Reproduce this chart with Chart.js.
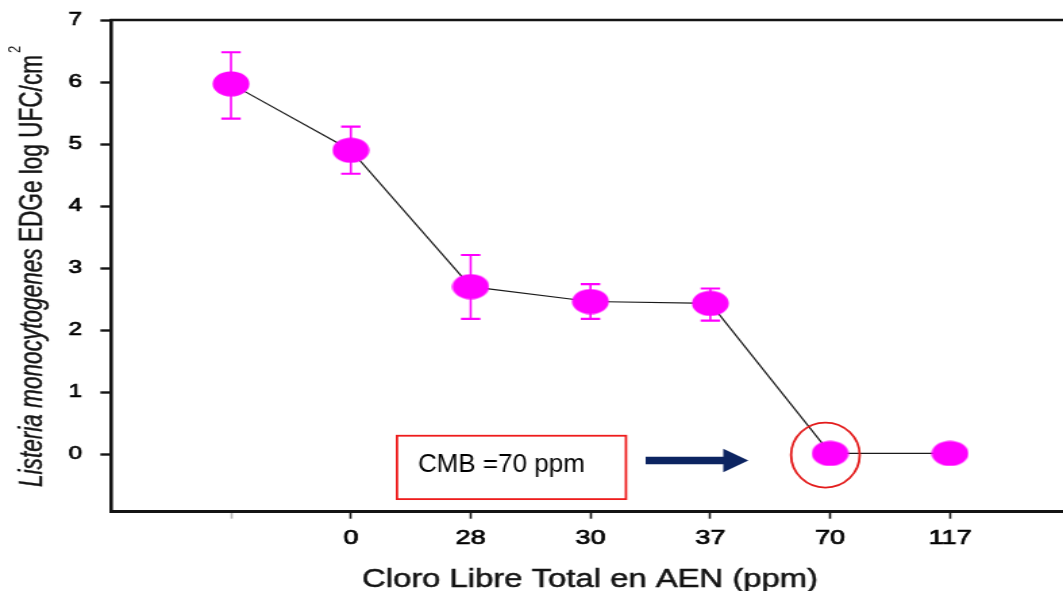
<!DOCTYPE html>
<html><head><meta charset="utf-8">
<script src="https://cdn.jsdelivr.net/npm/chart.js@4.4.1/dist/chart.umd.min.js"></script>
<style>html,body{margin:0;padding:0;background:#fff;overflow:hidden}</style>
</head><body>
<canvas id="c" width="787" height="591" style="display:block;width:1063px;height:591px"></canvas>
<script>
// ---- data ----
const categories = ['', '0', '28', '30', '37', '70', '117'];
const means   = [5.97, 4.90, 2.70, 2.46, 2.43, 0.01, 0.01];
const errHigh = [6.48, 5.28, 3.21, 2.74, 2.67, 0.01, 0.01];
const errLow  = [5.41, 4.52, 2.18, 2.18, 2.15, 0.01, 0.01];
const yTicks = [0, 1, 2, 3, 4, 5, 6, 7];
const xTitle = 'Cloro Libre Total en AEN (ppm)';
const yTitleItalic = 'Listeria monocytogenes';
const yTitleRest = ' EDGe log UFC/cm';
const yTitleSup = '2';
const noteText = 'CMB =70 ppm';

const SX = 1063 / 787;
const FONT = '"Liberation Sans", Arial, sans-serif';
const INK = '#141414';

// marker image (slightly wide oval)
const mk = document.createElement('canvas');
mk.width = 28; mk.height = 26;
{
  const g = mk.getContext('2d');
  g.fillStyle = '#ff00ff';
  g.beginPath();
  g.ellipse(14, 13, 13.6, 12.6, 0, 0, Math.PI * 2);
  g.fill();
}

function boldText(ctx, txt, x, y, sw) {
  ctx.fillText(txt, x, y);
  ctx.lineWidth = sw;
  ctx.strokeText(txt, x, y);
}

const errorBars = {
  id: 'errorBars',
  beforeDatasetsDraw(chart) {
    const xs = chart.scales.x, ys = chart.scales.y, ctx = chart.ctx;
    ctx.save();
    ctx.strokeStyle = '#ff00ff';
    means.forEach((m, i) => {
      if (errHigh[i] - errLow[i] < 0.05) return;
      const x = xs.getPixelForValue(i);
      const yh = ys.getPixelForValue(errHigh[i]);
      const yl = ys.getPixelForValue(errLow[i]);
      ctx.lineWidth = 1.6;
      ctx.beginPath(); ctx.moveTo(x, yh); ctx.lineTo(x, yl); ctx.stroke();
      ctx.lineWidth = 2.2;
      ctx.beginPath();
      ctx.moveTo(x - 7.2, yh); ctx.lineTo(x + 7.2, yh);
      ctx.moveTo(x - 7.2, yl); ctx.lineTo(x + 7.2, yl);
      ctx.stroke();
    });
    ctx.restore();
  }
};

const extras = {
  id: 'extras',
  afterDraw(chart) {
    const xs = chart.scales.x, ys = chart.scales.y, ctx = chart.ctx;
    const a = chart.chartArea;
    ctx.save();
    // top frame line
    ctx.strokeStyle = INK; ctx.lineWidth = 2.5;
    ctx.beginPath(); ctx.moveTo(a.left - 1, a.top); ctx.lineTo(chart.width, a.top); ctx.stroke();

    // x title
    ctx.fillStyle = INK; ctx.strokeStyle = INK;
    ctx.font = '25px ' + FONT;
    let w = ctx.measureText(xTitle).width;
    ctx.save();
    ctx.translate(436.8, 587);
    ctx.scale((456 / SX) / w, 1);
    ctx.textAlign = 'center'; ctx.textBaseline = 'alphabetic';
    boldText(ctx, xTitle, 0, 0, 0.5);
    ctx.restore();

    // y title (rotated)
    ctx.font = 'italic 24px ' + FONT;
    const w1 = ctx.measureText(yTitleItalic).width;
    ctx.font = '24px ' + FONT;
    const w2 = ctx.measureText(yTitleRest).width;
    const k = 432 / (w1 + w2);
    ctx.save();
    ctx.translate(31.1, 271);
    ctx.rotate(-Math.PI / 2);
    ctx.scale(k, 1);
    ctx.textAlign = 'left'; ctx.textBaseline = 'alphabetic';
    const x0 = -(w1 + w2) / 2;
    ctx.font = 'italic 24px ' + FONT;
    boldText(ctx, yTitleItalic, x0, 0, 0.4);
    ctx.font = '24px ' + FONT;
    boldText(ctx, yTitleRest, x0 + w1, 0, 0.4);
    ctx.restore();
    // superscript, placed explicitly
    ctx.save();
    ctx.translate(31.1 - 16.5, 271 - (w1 + w2) * k / 2 - 2);
    ctx.rotate(-Math.PI / 2);
    ctx.font = '13px ' + FONT;
    ctx.textAlign = 'left'; ctx.textBaseline = 'alphabetic';
    ctx.fillText(yTitleSup, 0, 0);
    ctx.restore();

    // annotation box
    const bx1 = xs.getPixelForValue(1.385), bx2 = xs.getPixelForValue(3.296);
    const by1 = ys.getPixelForValue(0.295), by2 = ys.getPixelForValue(-0.727);
    ctx.strokeStyle = '#ee1c1c'; ctx.lineWidth = 1.8;
    ctx.strokeRect(bx1, by1, bx2 - bx1, by2 - by1);
    ctx.save();
    ctx.translate(xs.getPixelForValue(1.56), ys.getPixelForValue(-0.29));
    ctx.scale(1 / SX, 1);
    ctx.fillStyle = '#000';
    ctx.font = '26px ' + FONT;
    ctx.textAlign = 'left'; ctx.textBaseline = 'alphabetic';
    ctx.fillText(noteText, 0, 0);
    ctx.restore();

    // arrow
    const ax0 = xs.getPixelForValue(3.46), axb = xs.getPixelForValue(4.108), axt = xs.getPixelForValue(4.317);
    const ay = ys.getPixelForValue(-0.105);
    ctx.fillStyle = '#0c2461';
    ctx.beginPath();
    ctx.moveTo(ax0, ay - 3.8); ctx.lineTo(axb, ay - 3.8); ctx.lineTo(axb, ay - 11.8);
    ctx.lineTo(axt, ay); ctx.lineTo(axb, ay + 11.8); ctx.lineTo(axb, ay + 3.8);
    ctx.lineTo(ax0, ay + 3.8); ctx.closePath(); ctx.fill();

    // circle around 70 ppm point
    ctx.strokeStyle = '#e31b1b'; ctx.lineWidth = 1.8;
    ctx.beginPath();
    ctx.ellipse(xs.getPixelForValue(4.96), ys.getPixelForValue(-0.016), 34.3 / SX, 32.5, 0, 0, Math.PI * 2);
    ctx.stroke();
    ctx.restore();
  }
};

new Chart(document.getElementById('c'), {
  type: 'line',
  data: {
    datasets: [{
      data: means.map((v, i) => ({ x: i, y: v })),
      borderColor: '#1a1a1a',
      borderWidth: 1.2,
      tension: 0,
      fill: false,
      clip: false,
      pointStyle: mk,
      pointRadius: 13,
      pointBackgroundColor: '#ff00ff',
      pointBorderWidth: 0
    }]
  },
  options: {
    responsive: false,
    animation: false,
    devicePixelRatio: 1,
    layout: { autoPadding: false, padding: { top: 20, left: 0, right: 0, bottom: 0 } },
    plugins: { legend: { display: false }, tooltip: { enabled: false }, title: { display: false } },
    scales: {
      x: {
        type: 'linear',
        min: -1,
        max: 6.943,
        afterBuildTicks: s => { s.ticks = categories.map((c, i) => ({ value: i })); },
        afterFit: s => { s.height = 79.3; s.paddingLeft = 0; s.paddingRight = 0; },
        ticks: {
          autoSkip: false, maxRotation: 0, minRotation: 0,
          padding: 8,
          color: '#000',
          textStrokeColor: '#000',
          textStrokeWidth: 0.7,
          font: { family: FONT, size: 20 },
          callback: v => categories[v] ?? ''
        },
        grid: {
          drawOnChartArea: false, drawTicks: true, tickLength: 7, tickWidth: 1.6,
          tickColor: c => (c.index === 0 ? 'rgba(20,20,20,0.3)' : INK)
        },
        border: { display: true, color: INK, width: 3 }
      },
      y: {
        type: 'linear',
        min: -0.93,
        max: 7,
        afterBuildTicks: s => { s.ticks = yTicks.map(v => ({ value: v })); },
        afterFit: s => { s.width = 82.3; s.paddingTop = 0; s.paddingBottom = 0; },
        ticks: {
          padding: 13.6,
          color: '#000',
          textStrokeColor: '#000',
          textStrokeWidth: 0.7,
          font: { family: FONT, size: 18 },
          callback: v => String(v)
        },
        grid: { drawOnChartArea: false, drawTicks: true, tickLength: 8, tickWidth: 2.4, tickColor: INK },
        border: { display: true, color: INK, width: 2.6 }
      }
    }
  },
  plugins: [errorBars, extras]
});
</script>
</body></html>
